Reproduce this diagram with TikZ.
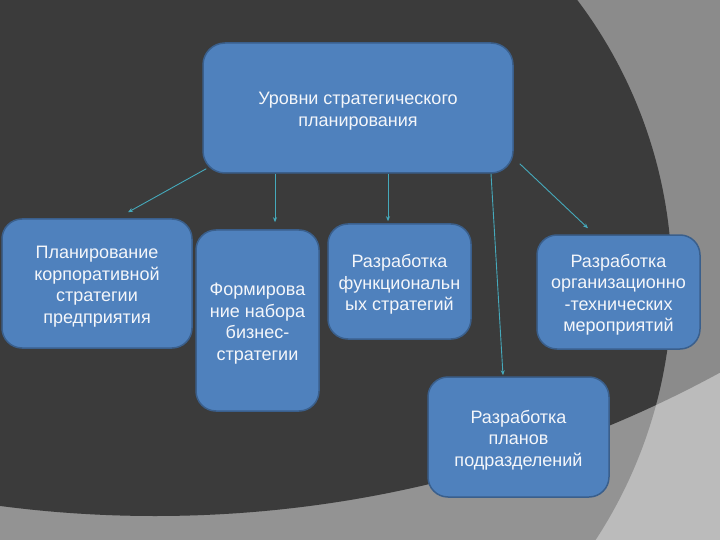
\documentclass[tikz,border=0pt]{standalone}
\usepackage{fontspec}
\setmainfont{Liberation Sans}
\usetikzlibrary{arrows.meta,calc}
\definecolor{bgdark}{HTML}{3B3B3B}
\definecolor{bgmid}{HTML}{8B8B8B}
\definecolor{bgband}{HTML}{939393}
\definecolor{bglight}{HTML}{BBBBBB}
\definecolor{boxfill}{HTML}{4F81BD}
\definecolor{boxline}{HTML}{3A5F8C}
\definecolor{arrowc}{HTML}{45A9BB}
\definecolor{txt}{HTML}{F4F6FA}
\newcommand{\mytopstrut}{\rule{0pt}{19pt}}
\begin{document}
\begin{tikzpicture}[x=1pt,y=-1pt,
  box/.style={draw=boxline, line width=1.5pt, fill=boxfill, rounded corners=20pt,
    align=center, text=txt, inner sep=0pt,
    font=\fontsize{18}{21.5}\selectfont},
  arr/.style={draw=arrowc, line width=0.9pt, -{Stealth[length=5pt,width=4pt]}}]
\useasboundingbox (0,0) rectangle (720,540);
% background
\fill[bglight] (0,0) rectangle (720,540);
\begin{scope}
  \clip (202,283) circle[radius=470pt];
  \fill[bgband] (0,0) rectangle (720,540);
\end{scope}
\begin{scope}
  \clip (155,-667) circle[radius=1183pt];
  \fill[bgmid] (0,0) rectangle (720,540);
  \clip (202,283) circle[radius=470pt];
  \fill[bgdark] (0,0) rectangle (720,540);
\end{scope}
% nodes
\node[box, rounded corners=22pt, minimum width=310pt, minimum height=130pt] (top) at (358,108)
  {\mytopstrut Уровни стратегического\\планирования};
\node[box, minimum width=190pt, minimum height=129pt] (b2) at (97,283.5)
  {\mytopstrut Планирование\\корпоративной\\стратегии\\предприятия};
\node[box, minimum width=123pt, minimum height=181pt] (b3) at (257.5,320.5)
  {\mytopstrut Формирова\\ние набора\\бизнес-\\стратегии};
\node[box, minimum width=143pt, minimum height=115pt] (b4) at (399.5,281.5)
  {\mytopstrut Разработка\\функциональн\\ых стратегий};
\node[box, minimum width=163pt, minimum height=114pt] (b5) at (618.5,292)
  {\mytopstrut Разработка\\организационно\\-технических\\мероприятий};
\node[box, minimum width=181pt, minimum height=120pt] (b6) at (518.5,437)
  {\mytopstrut Разработка\\планов\\подразделений};
% connectors
\draw[arr] ([shift={(4,-5)}]top.south west) -- ([shift={(31,-6)}]b2.north);
\draw[arr] (275,0 |- top.south) -- ([yshift=7pt]275,0 |- b3.north);
\draw[arr] (388,0 |- top.south) -- ([yshift=2pt]388,0 |- b4.north);
\draw[arr] (491,0 |- top.south) -- ([yshift=1pt]503,0 |- b6.north);
\draw[arr] ([shift={(6,-10)}]top.south east) -- ([shift={(-30.5,-6)}]b5.north);
\end{tikzpicture}
\end{document}
